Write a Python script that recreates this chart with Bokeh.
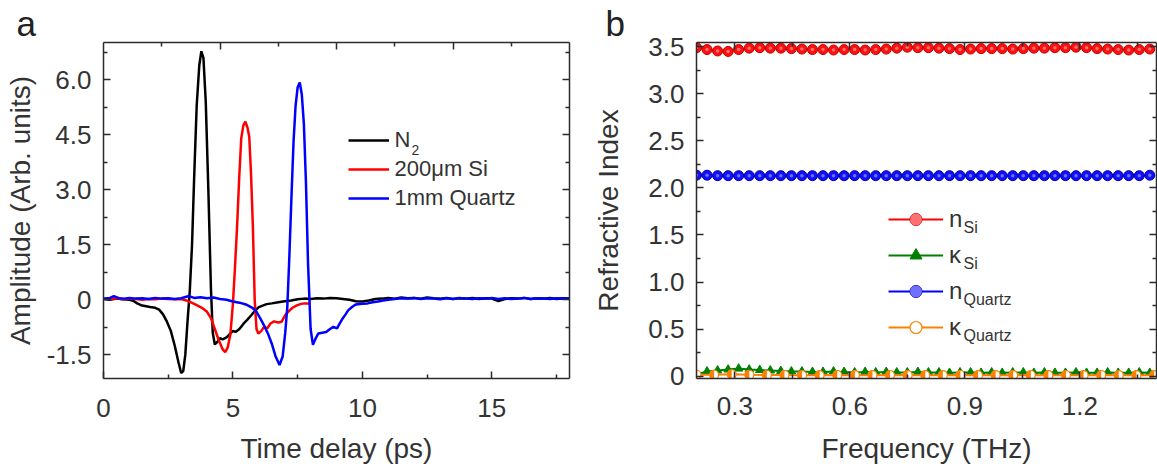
import math
from bokeh.plotting import figure
from bokeh.layouts import row
from bokeh.models import Range1d, LinearAxis, FixedTicker, Legend, LegendItem, Label
from bokeh.core.properties import value
from bokeh.embed import file_html
from bokeh.resources import INLINE

# ---------------- panel a : time-domain traces ----------------
n2_time = [0.0, 0.25, 0.5, 0.75, 1.0, 1.15, 1.3, 1.45, 1.6, 1.8,
           2.0, 2.15, 2.3, 2.45, 2.6, 2.75, 2.9, 3.0, 3.08, 3.16,
           3.25, 3.33, 3.42, 3.5, 3.6, 3.7, 3.78, 3.86, 3.95, 4.05,
           4.15, 4.22, 4.3, 4.4, 4.5, 4.6, 4.7, 4.8, 4.9, 5.0,
           5.1, 5.25, 5.4, 5.55, 5.7, 5.85, 6.0, 6.15, 6.3, 6.5,
           6.75, 7.0, 7.25, 7.5, 7.75,
           8.0, 8.25, 8.5, 8.75, 9.0, 9.25, 9.5, 9.75, 10.0, 10.25,
           10.5, 10.75, 11.0, 11.25, 11.5, 11.75, 12.0, 12.25, 12.5, 12.75,
           13.0, 13.25, 13.5, 13.75, 14.0, 14.25, 14.5, 14.75, 15.0, 15.25,
           15.5, 15.75, 16.0, 16.25, 16.5, 16.75, 17.0, 17.25, 17.5, 17.75, 18.0]
n2_amp = [0.02, 0.0, 0.03, 0.01, 0.0, -0.03, -0.1, -0.15, -0.17, -0.2,
          -0.22, -0.27, -0.4, -0.6, -0.85, -1.25, -1.72, -2.0, -1.95, -1.5,
          -0.55, 0.2, 1.5, 3.3, 5.3, 6.4, 6.78, 6.6, 5.4, 3.0,
          0.3, -0.9, -1.22, -1.15, -1.05, -1.08, -1.05, -1.0, -0.92, -0.85,
          -0.88, -0.8, -0.66, -0.55, -0.43, -0.3, -0.2, -0.16, -0.12, -0.1,
          -0.07, -0.04, -0.02, 0.01, 0.03,
          0.02, 0.04, 0.03, 0.05, 0.04, 0.02, 0.0, -0.04, -0.05, -0.02,
          0.02, 0.03, 0.05, 0.03, 0.06, 0.04, 0.05, 0.03, 0.06, 0.04,
          0.03, 0.05, 0.02, 0.04, 0.03, 0.05, 0.02, 0.04, 0.03, -0.04,
          0.02, 0.04, 0.03, 0.05, 0.02, 0.04, 0.03, 0.05, 0.02, 0.04, 0.03]

si_time = [0.0, 0.25, 0.5, 0.75, 1.0, 1.25, 1.5, 1.75, 2.0, 2.25, 2.5, 2.75, 3.0,
           3.2, 3.4, 3.6, 3.8, 4.0, 4.15, 4.3, 4.45, 4.6, 4.7,
           4.8, 4.9, 5.0, 5.08, 5.16, 5.24, 5.32, 5.4, 5.48, 5.56,
           5.63, 5.7, 5.77, 5.84, 5.91, 5.98, 6.1, 6.2, 6.33, 6.45,
           6.59, 6.75, 6.88, 7.02, 7.15, 7.3, 7.45, 7.6, 7.75, 7.9, 8.0]
si_amp = [0.03, 0.02, 0.04, 0.01, 0.03, 0.02, 0.0, 0.02, 0.01, 0.03, 0.02, 0.01, 0.02,
          -0.02, -0.08, -0.15, -0.22, -0.33, -0.5, -0.8, -1.1, -1.35, -1.43,
          -1.3, -0.95, -0.1, 0.9, 2.0, 3.3, 4.4, 4.75, 4.86, 4.7,
          4.45, 3.4, 2.0, 0.0, -0.8, -0.92, -0.85, -0.74, -0.78, -0.65,
          -0.59, -0.62, -0.6, -0.42, -0.32, -0.22, -0.16, -0.12, -0.1, -0.1, -0.1]

qz_time = [0.0, 0.25, 0.4, 0.6, 0.8, 1.0, 1.25, 1.5, 1.75, 2.0,
           2.25, 2.5, 2.75, 3.0, 3.3, 3.5, 3.75, 4.0, 4.25, 4.5,
           4.75, 5.0, 5.25, 5.5, 5.75, 5.9, 6.05, 6.2, 6.35, 6.5,
           6.65, 6.8, 6.92, 7.02, 7.1, 7.18, 7.26, 7.34, 7.42, 7.5,
           7.58, 7.66, 7.74, 7.82, 7.9, 8.0, 8.09, 8.2, 8.3, 8.45,
           8.6, 8.75, 8.88, 9.02, 9.12, 9.24, 9.35, 9.45, 9.6, 9.74,
           10.0, 10.2, 10.4, 10.6, 10.8, 11.0, 11.25, 11.5, 11.75, 12.0,
           12.25, 12.5, 12.75, 13.0, 13.25, 13.5, 13.75, 14.0, 14.25, 14.5,
           14.75, 15.0, 15.25, 15.5, 15.75, 16.0, 16.25, 16.5, 16.75, 17.0,
           17.25, 17.5, 17.75, 18.0]
qz_amp = [0.03, 0.05, 0.1, 0.04, 0.03, 0.05, 0.03, 0.04, 0.02, 0.05,
          0.03, 0.04, 0.02, 0.04, 0.1, 0.05, 0.07, 0.04, 0.06, 0.02,
          0.0, -0.05, -0.08, -0.13, -0.22, -0.32, -0.5, -0.7, -0.92, -1.2,
          -1.55, -1.78, -1.55, -0.9, -0.2, 1.2, 2.8, 4.3, 5.3, 5.8,
          5.93, 5.6, 4.8, 3.2, 1.0, -0.8, -1.23, -1.05, -0.92, -0.9,
          -0.88, -0.8, -0.74, -0.78, -0.65, -0.51, -0.4, -0.29, -0.2, -0.13,
          -0.11, -0.1, -0.07, -0.05, -0.02, 0.0, 0.02, 0.04, 0.03, 0.05,
          0.02, 0.04, 0.03, 0.01, 0.04, 0.02, 0.05, 0.03, 0.02, 0.04,
          0.03, 0.05, 0.02, 0.04, 0.02, 0.03, 0.05, 0.02, 0.04, 0.03,
          0.02, 0.04, 0.03, 0.03]

a_xticks = [0, 5, 10, 15]
a_yticks = [-1.5, 0, 1.5, 3.0, 4.5, 6.0]
a_ytick_labels = ["-1.5", "0", "1.5", "3.0", "4.5", "6.0"]
a_labels = ["N", "200\u03bcm Si", "1mm Quartz"]

# ---------------- panel b : refractive index ----------------
freq = [0.2, 0.2275, 0.255, 0.2825, 0.31, 0.3375, 0.365, 0.3925, 0.42, 0.4475,
        0.475, 0.5025, 0.53, 0.5575, 0.585, 0.6125, 0.64, 0.6675, 0.695, 0.7225,
        0.75, 0.7775, 0.805, 0.8325, 0.86, 0.8875, 0.915, 0.9425, 0.97, 0.9975,
        1.025, 1.0525, 1.08, 1.1075, 1.135, 1.1625, 1.19, 1.2175, 1.245, 1.2725,
        1.3, 1.3275, 1.355, 1.3825]
n_si = [3.49, 3.47, 3.455, 3.45, 3.47, 3.485, 3.49, 3.485, 3.485, 3.48,
        3.475, 3.47, 3.47, 3.465, 3.47, 3.47, 3.465, 3.47, 3.475, 3.485,
        3.495, 3.49, 3.49, 3.485, 3.48, 3.47, 3.475, 3.48, 3.48, 3.48,
        3.475, 3.48, 3.485, 3.485, 3.49, 3.49, 3.495, 3.49, 3.48, 3.475,
        3.47, 3.465, 3.47, 3.475]
k_si = [0.02, 0.05, 0.06, 0.07, 0.08, 0.07, 0.065, 0.06, 0.055, 0.05,
        0.05, 0.045, 0.045, 0.05, 0.045, 0.04, 0.045, 0.04, 0.045, 0.04,
        0.04, 0.045, 0.04, 0.04, 0.035, 0.04, 0.04, 0.035, 0.04, 0.035,
        0.04, 0.04, 0.035, 0.04, 0.035, 0.035, 0.04, 0.035, 0.035, 0.04,
        0.035, 0.035, 0.04, 0.035]
n_quartz = [2.135, 2.135, 2.13, 2.13, 2.13, 2.13, 2.13, 2.13, 2.13, 2.13,
            2.13, 2.13, 2.13, 2.13, 2.13, 2.13, 2.13, 2.13, 2.13, 2.13,
            2.13, 2.13, 2.13, 2.13, 2.13, 2.13, 2.13, 2.13, 2.13, 2.13,
            2.13, 2.13, 2.13, 2.13, 2.13, 2.13, 2.13, 2.13, 2.13, 2.13,
            2.13, 2.13, 2.13, 2.135]
freq_kq = [0.2, 0.2459, 0.2918, 0.3377, 0.3836, 0.4295, 0.4754, 0.5213, 0.5672, 0.6131,
           0.659, 0.7049, 0.7508, 0.7967, 0.8426, 0.8885, 0.9344, 0.9803, 1.0262, 1.0721,
           1.118, 1.1639, 1.2098, 1.2557, 1.3016, 1.3475, 1.3934]
k_quartz = [0.015, 0.015, 0.02, 0.015, 0.012, 0.012, 0.01, 0.01, 0.012, 0.01,
            0.01, 0.012, 0.01, 0.01, 0.01, 0.012, 0.01, 0.01, 0.01, 0.012,
            0.01, 0.01, 0.01, 0.012, 0.01, 0.01, 0.01]

b_xticks = [0.3, 0.6, 0.9, 1.2]
b_yticks = [0, 0.5, 1.0, 1.5, 2.0, 2.5, 3.0, 3.5]
b_ytick_labels = ["0", "0.5", "1.0", "1.5", "2.0", "2.5", "3.0", "3.5"]
b_labels = [("n", "Si"), ("\u03ba", "Si"), ("n", "Quartz"), ("\u03ba", "Quartz")]

# ---------------- styling ----------------
FONT = "Liberation Sans"
AXC = "#2b2b2b"
TXT = "#333333"
RED, GREEN, BLUE, ORANGE = "#ff0000", "#008000", "#0000ff", "#ff8000"


def style_axis(ax, major, minor, show=True, labels=None, label=None):
    ax.ticker = FixedTicker(ticks=major, minor_ticks=minor)
    ax.major_tick_in = 7
    ax.major_tick_out = 0
    ax.minor_tick_in = 4
    ax.minor_tick_out = 0
    ax.axis_line_color = AXC
    ax.axis_line_width = 1.5
    ax.major_tick_line_color = AXC
    ax.major_tick_line_width = 1.5
    ax.minor_tick_line_color = AXC
    ax.minor_tick_line_width = 1.5
    ax.major_label_text_font = FONT
    ax.major_label_text_color = TXT
    if show:
        ax.major_label_text_font_size = "26px"
        if labels:
            ax.major_label_overrides = dict(zip(major, labels))
    else:
        ax.major_label_text_font_size = "1px"
        ax.major_label_standoff = 0
        ax.major_label_overrides = {t: "" for t in major}
    if label:
        ax.axis_label = label
        ax.axis_label_text_font = FONT
        ax.axis_label_text_font_size = "28px"
        ax.axis_label_text_font_style = "normal"
        ax.axis_label_text_color = TXT


def base_fig(width, xr, yr, ml, mr, mt, mb, letter, offset):
    p = figure(width=width, height=469, x_range=xr, y_range=yr,
               output_backend="svg", toolbar_location=None,
               min_border_left=ml, min_border_right=mr,
               min_border_top=mt, min_border_bottom=mb)
    p.xgrid.visible = False
    p.ygrid.visible = False
    p.outline_line_color = None
    p.background_fill_color = "white"
    p.border_fill_color = "white"
    p.title.text = letter
    p.title.text_font = FONT
    p.title.text_font_size = "35px"
    p.title.text_font_style = "normal"
    p.title.text_color = "#222222"
    p.title.align = "left"
    p.title.offset = offset
    p.title.standoff = 0
    return p


# ---------------- panel a ----------------
p1 = base_fig(590, Range1d(0, 18), Range1d(-2.15, 7.02), 103, 21, 42, 88, "a", -87)
p1.extra_x_ranges = {"top": Range1d(0, 20)}

r_n2 = p1.line(n2_time, n2_amp, line_color="black", line_width=2.5)
r_si = p1.line(si_time, si_amp, line_color=RED, line_width=2.5)
r_qz = p1.line(qz_time, qz_amp, line_color=BLUE, line_width=2.5)

style_axis(p1.xaxis[0], a_xticks, [2.5, 7.5, 12.5, 17.5], label="Time delay (ps)")
p1.xaxis[0].major_label_standoff = 20
p1.xaxis[0].axis_label_standoff = 13
style_axis(p1.yaxis[0], a_yticks, [-0.75, 0.75, 2.25, 3.75, 5.25, 6.75],
           labels=a_ytick_labels, label="Amplitude (Arb. units)")
p1.yaxis[0].major_label_standoff = 12
p1.yaxis[0].axis_label_standoff = 8

top1 = LinearAxis(x_range_name="top")
style_axis(top1, [5, 10, 15], [2.5, 7.5, 12.5, 17.5], show=False)
p1.add_layout(top1, "above")
right1 = LinearAxis()
style_axis(right1, a_yticks, [-0.75, 0.75, 2.25, 3.75, 5.25, 6.75], show=False)
p1.add_layout(right1, "right")

# legend: location is the legend's bottom-left corner in frame pixels
leg1 = Legend(items=[LegendItem(label=value(a_labels[0]), renderers=[r_n2]),
                     LegendItem(label=value(a_labels[1]), renderers=[r_si]),
                     LegendItem(label=value(a_labels[2]), renderers=[r_qz])],
              location=(244.5, 167), glyph_width=41, glyph_height=26,
              label_height=26, label_standoff=6, spacing=3, padding=0, margin=0,
              border_line_color=None, background_fill_alpha=0,
              label_text_font=FONT, label_text_font_size="22px",
              label_text_color=TXT)
p1.add_layout(leg1)
p1.add_layout(Label(x=308, y=224, x_units="screen", y_units="screen", text="2",
                    text_font=FONT, text_font_size="14px", text_color=TXT))

# ---------------- panel b ----------------
p2 = base_fig(567, Range1d(0.2, 1.4), Range1d(-0.025, 3.545), 103, 1, 41, 91, "b", -91)

l_nsi = p2.line(freq, n_si, line_color=RED, line_width=2)
s_nsi = p2.scatter(freq, n_si, marker="circle", size=10, fill_color="#ff1010", line_color="#c00000", line_width=1)
h_nsi = p2.scatter(freq, n_si, marker="circle", size=3.5, fill_color="#ff7070", line_color=None)

l_nqz = p2.line(freq, n_quartz, line_color=BLUE, line_width=2)
s_nqz = p2.scatter(freq, n_quartz, marker="circle", size=10, fill_color="#1010ff", line_color="#0000a0", line_width=1)
h_nqz = p2.scatter(freq, n_quartz, marker="circle", size=3.5, fill_color="#7070ff", line_color=None)

l_ksi = p2.line(freq, k_si, line_color=GREEN, line_width=2)
s_ksi = p2.scatter(freq, k_si, marker="triangle", size=8.5, fill_color=GREEN, line_color=GREEN)

l_kqz = p2.line(freq_kq, k_quartz, line_color=ORANGE, line_width=2)
s_kqz = p2.scatter(freq_kq, k_quartz, marker="circle", size=9, fill_color="white", line_color=ORANGE, line_width=1.2)
p2.wedge(freq_kq, k_quartz, radius=4.5, radius_units="screen",
         start_angle=math.pi / 2, end_angle=3 * math.pi / 2,
         fill_color=ORANGE, line_color=None)

style_axis(p2.xaxis[0], b_xticks, [0.45, 0.75, 1.05, 1.35], label="Frequency (THz)")
p2.xaxis[0].major_label_standoff = 18
p2.xaxis[0].axis_label_standoff = 15
style_axis(p2.yaxis[0], b_yticks, [0.25, 0.75, 1.25, 1.75, 2.25, 2.75, 3.25],
           labels=b_ytick_labels, label="Refractive Index")
p2.yaxis[0].major_label_standoff = 12
p2.yaxis[0].axis_label_standoff = 21

top2 = LinearAxis()
style_axis(top2, b_xticks, [0.45, 0.75, 1.05, 1.35], show=False)
p2.add_layout(top2, "above")
right2 = LinearAxis()
style_axis(right2, b_yticks, [0.25, 0.75, 1.25, 1.75, 2.25, 2.75, 3.25], show=False)
p2.add_layout(right2, "right")

leg2 = Legend(items=[LegendItem(label=value(b_labels[0][0]), renderers=[l_nsi, s_nsi, h_nsi]),
                     LegendItem(label=value(b_labels[1][0]), renderers=[l_ksi, s_ksi]),
                     LegendItem(label=value(b_labels[2][0]), renderers=[l_nqz, s_nqz, h_nqz]),
                     LegendItem(label=value(b_labels[3][0]), renderers=[l_kqz, s_kqz])],
              location=(192, 36), glyph_width=55, glyph_height=30,
              label_height=30, label_standoff=6, spacing=6, padding=0, margin=0,
              border_line_color=None, background_fill_alpha=0,
              label_text_font=FONT, label_text_font_size="24px",
              label_text_color=TXT)
p2.add_layout(leg2)
for i, (main, sub) in enumerate(b_labels):
    p2.add_layout(Label(x=267, y=142.7 - 36 * i, x_units="screen", y_units="screen",
                        text=sub, text_font=FONT, text_font_size="16px", text_color=TXT))

layout = row(p1, p2)
open("out.html", "w").write(file_html(layout, INLINE))
